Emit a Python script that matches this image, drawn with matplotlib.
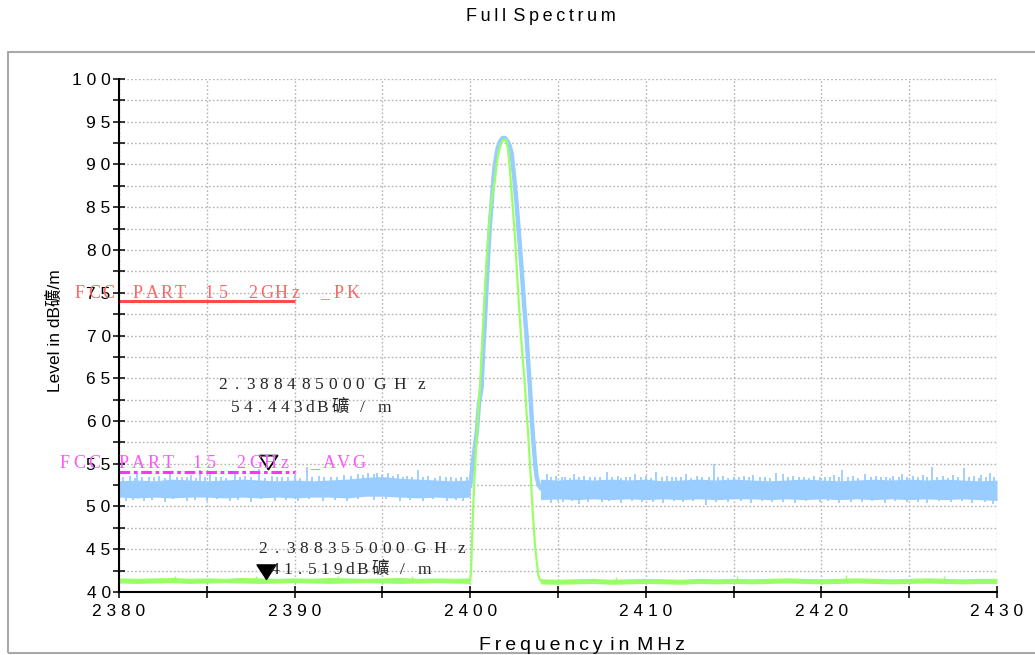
import numpy as np
import matplotlib
matplotlib.use("Agg")
import matplotlib.pyplot as plt
from matplotlib.path import Path
from matplotlib.patches import Rectangle
from matplotlib.ticker import MultipleLocator, FuncFormatter

# ---------------- data ----------------
x_min, x_max = 2380, 2430
y_min, y_max = 40, 100

# peak detector trace (blue): noise floor envelopes
blue_left_f = [2380, 2381, 2382, 2383, 2384, 2385, 2386, 2387, 2388, 2389, 2390,
               2391, 2392, 2393, 2394, 2395, 2396, 2397, 2398, 2399, 2400]
blue_left_hi = [53.0, 53.1, 53.0, 53.2, 53.1, 53.0, 53.1, 53.2, 53.1, 53.0, 53.1,
                53.0, 53.1, 53.2, 53.4, 53.5, 53.3, 53.2, 53.1, 53.0, 53.1]
blue_left_lo = [51.1, 51.0, 51.1, 51.0, 51.1, 51.1, 51.0, 51.1, 51.0, 51.1, 51.0,
                51.1, 51.1, 51.0, 51.2, 51.2, 51.1, 51.0, 51.1, 51.0, 51.1]
blue_right_f = [2404, 2405, 2406, 2407, 2408, 2409, 2410, 2411, 2412, 2413, 2414,
                2415, 2416, 2417, 2418, 2419, 2420, 2421, 2422, 2423, 2424, 2425,
                2426, 2427, 2428, 2429, 2430]
blue_right_hi = [53.2, 53.1, 53.2, 53.1, 53.2, 53.1, 53.2, 53.0, 53.1, 53.2, 53.1,
                 53.2, 53.1, 53.0, 53.1, 53.2, 53.1, 53.0, 53.1, 53.2, 53.1, 53.2,
                 53.1, 53.2, 53.1, 53.0, 53.1]
blue_right_lo = [50.8, 50.9, 50.8, 50.9, 50.8, 50.9, 50.8, 50.9, 50.8, 50.9, 50.8,
                 50.9, 50.9, 50.8, 50.9, 50.8, 50.9, 50.8, 50.9, 50.8, 50.9, 50.8,
                 50.9, 50.8, 50.9, 50.8, 50.7]
blue_spike_up_f = [2380.6, 2381.0, 2381.7, 2382.3, 2382.9, 2383.6, 2384.1, 2384.6, 2385.2,
                   2385.8, 2386.6, 2387.2, 2388.0, 2388.7, 2389.3, 2390.0, 2390.7, 2391.4,
                   2392.1, 2392.8, 2393.6, 2394.2, 2394.7, 2395.3, 2395.9, 2396.4, 2397.0,
                   2397.6, 2398.3, 2398.9, 2399.5,
                   2404.35, 2404.9, 2405.4, 2405.9, 2406.5, 2407.1, 2407.8, 2408.4, 2408.9,
                   2409.4, 2410.0, 2410.6, 2411.2, 2411.7, 2412.3, 2412.9, 2413.9, 2414.4,
                   2415.0, 2415.6, 2416.1, 2416.8, 2417.4, 2417.8, 2418.4, 2419.0, 2419.6,
                   2420.2, 2420.7, 2421.2, 2421.8, 2422.5, 2423.1, 2423.7, 2424.1, 2424.6,
                   2425.2, 2425.8, 2426.3, 2426.9, 2427.5, 2428.1, 2428.7, 2429.1, 2429.6]
blue_spike_up_v = [53.6, 53.9, 53.5, 53.6, 54.0, 53.5, 53.7, 54.3, 53.8,
                   53.5, 53.9, 53.6, 54.4, 53.6, 53.5, 53.7, 54.6, 53.6,
                   53.5, 53.7, 53.8, 53.9, 53.9, 53.9, 53.8, 53.6, 54.3,
                   53.6, 53.6, 53.5, 53.4,
                   53.8, 53.6, 53.5, 53.8, 53.6, 53.5, 54.0, 53.6, 53.5,
                   53.8, 53.6, 54.0, 53.6, 53.5, 53.8, 53.6, 55.0, 53.6,
                   53.5, 53.6, 53.7, 53.5, 53.9, 53.8, 53.6, 53.5, 53.6,
                   53.5, 53.7, 54.3, 53.6, 53.8, 53.6, 53.5, 53.6, 53.8,
                   53.6, 53.7, 54.6, 53.6, 53.7, 54.5, 53.6, 53.7, 53.9]
blue_ripple_up_f = [2380.2, 2380.9, 2381.3, 2382.0, 2382.6, 2383.3, 2383.9, 2384.4, 2384.9,
                    2385.5, 2386.1, 2386.9, 2387.5, 2388.3, 2389.0, 2389.6, 2390.3, 2391.0,
                    2391.7, 2392.4, 2393.2, 2393.9, 2394.5, 2395.0, 2395.6, 2396.2, 2396.7,
                    2397.3, 2398.0, 2398.6, 2399.2, 2399.8,
                    2404.6, 2405.2, 2405.7, 2406.2, 2406.8, 2407.4, 2408.1, 2408.6, 2409.1,
                    2409.7, 2410.3, 2410.9, 2411.5, 2412.0, 2412.6, 2413.2, 2413.6, 2414.1,
                    2414.7, 2415.3, 2415.9, 2416.5, 2417.1, 2418.1, 2418.7, 2419.3, 2419.9,
                    2420.5, 2421.0, 2421.5, 2422.1, 2422.8, 2423.4, 2423.9, 2424.4, 2424.9,
                    2425.5, 2426.0, 2426.6, 2427.2, 2427.8, 2428.4, 2429.0, 2429.4, 2429.85]
blue_ripple_up_v = [53.4, 53.3, 53.5, 53.4, 53.3, 53.5, 53.4, 53.3, 53.5,
                    53.4, 53.3, 53.5, 53.4, 53.3, 53.5, 53.4, 53.3, 53.5,
                    53.4, 53.5, 53.6, 53.7, 53.8, 53.7, 53.6, 53.5, 53.5,
                    53.4, 53.3, 53.4, 53.3, 53.4,
                    53.5, 53.4, 53.3, 53.5, 53.4, 53.5, 53.4, 53.3, 53.5,
                    53.4, 53.3, 53.5, 53.4, 53.5, 53.3, 53.4, 53.5, 53.4,
                    53.3, 53.5, 53.4, 53.5, 53.3, 53.5, 53.4, 53.3, 53.5,
                    53.4, 53.5, 53.4, 53.3, 53.5, 53.4, 53.3, 53.5, 53.4,
                    53.5, 53.4, 53.5, 53.3, 53.5, 53.4, 53.3, 53.5, 53.4]
blue_spike_dn_f = [2380.4, 2381.4, 2382.6, 2383.9, 2385.0, 2386.3, 2387.5, 2388.9, 2390.2,
                   2391.6, 2393.0, 2394.5, 2396.0, 2397.3, 2398.7, 2399.6,
                   2404.6, 2405.3, 2406.2, 2407.5, 2408.6, 2409.8, 2411.0, 2412.1, 2413.4,
                   2414.7, 2416.0, 2417.2, 2418.5, 2419.9, 2421.0, 2422.3, 2423.6, 2424.9,
                   2426.0, 2427.4, 2428.6, 2429.8]
blue_spike_dn_v = [50.6, 50.7, 50.5, 50.7, 50.6, 50.7, 50.5, 50.7, 50.6,
                   50.7, 50.6, 50.8, 50.7, 50.6, 50.7, 50.7,
                   50.4, 50.5, 50.3, 50.5, 50.4, 50.5, 50.4, 50.5, 50.2,
                   50.5, 50.4, 50.5, 50.4, 50.5, 50.4, 50.5, 50.4, 50.5,
                   50.4, 50.5, 50.4, 50.3]
blue_ripple_dn_f = [2380.8, 2381.9, 2383.1, 2384.3, 2385.6, 2386.8, 2388.1, 2389.5, 2390.8,
                    2392.3, 2393.6, 2395.2, 2396.6, 2397.9, 2399.2,
                    2405.0, 2405.8, 2406.7, 2407.9, 2409.2, 2410.4, 2411.6, 2412.7, 2414.0,
                    2415.4, 2416.6, 2417.8, 2419.1, 2420.4, 2421.7, 2422.9, 2424.2, 2425.5,
                    2426.7, 2428.0, 2429.3]
blue_ripple_dn_v = [50.8, 50.8, 50.9, 50.8, 50.9, 50.8, 50.9, 50.8, 50.9,
                    50.8, 50.9, 50.9, 50.8, 50.9, 50.8,
                    50.6, 50.6, 50.5, 50.6, 50.6, 50.5, 50.6, 50.6, 50.5,
                    50.6, 50.6, 50.5, 50.6, 50.6, 50.5, 50.6, 50.6, 50.5,
                    50.6, 50.6, 50.5]
# peak detector trace (blue): carrier
blue_peak_f = [2400.0, 2400.08, 2400.2, 2400.37, 2400.5, 2400.65, 2400.75, 2400.84, 2400.95,
               2401.03, 2401.12, 2401.22, 2401.32, 2401.41, 2401.55, 2401.70, 2401.85, 2401.98,
               2402.1, 2402.23, 2402.36, 2402.5, 2402.64, 2402.78, 2402.93, 2403.07, 2403.21,
               2403.30, 2403.40, 2403.50, 2403.59, 2403.70, 2403.78, 2403.9, 2404.0]
blue_peak_v = [52.4, 53.8, 56.0, 58.6, 62.0, 64.0, 68.5, 71.8, 76.5,
               79.6, 82.8, 85.5, 88.3, 90.1, 91.8, 92.7, 93.1, 93.1,
               92.8, 92.3, 91.3, 88.6, 85.5, 81.8, 77.7, 73.6, 69.9,
               67.0, 64.0, 60.5, 57.8, 55.0, 53.5, 52.5, 52.2]

# average detector trace (green)
green_left_f = blue_left_f
green_left_hi = [41.65, 41.6, 41.65, 41.7, 41.6, 41.65, 41.6, 41.7, 41.65, 41.6, 41.65,
                 41.6, 41.7, 41.65, 41.6, 41.65, 41.7, 41.6, 41.65, 41.6, 41.65]
green_left_lo = [41.05, 41.0, 41.05, 41.1, 41.0, 41.05, 41.1, 41.05, 41.0, 41.05, 41.1,
                 41.05, 41.0, 41.05, 41.1, 41.05, 41.0, 41.05, 41.1, 41.05, 41.0]
green_right_f = blue_right_f
green_right_hi = [41.55, 41.5, 41.55, 41.6, 41.5, 41.55, 41.6, 41.55, 41.5, 41.6, 41.55,
                  41.6, 41.55, 41.6, 41.65, 41.6, 41.55, 41.6, 41.65, 41.6, 41.55, 41.6,
                  41.65, 41.6, 41.55, 41.6, 41.6]
green_right_lo = [40.95, 40.9, 40.95, 41.0, 40.9, 40.95, 41.0, 40.95, 40.9, 41.0, 40.95,
                  41.0, 40.95, 41.0, 41.05, 41.0, 40.95, 41.0, 41.05, 41.0, 40.95, 41.0,
                  41.05, 41.0, 40.95, 41.0, 41.0]
green_spike_f = [2383.2, 2387.8, 2392.5, 2396.7, 2408.3, 2415.2, 2421.4, 2427.0]
green_spike_v = [41.9, 41.85, 41.9, 41.85, 41.8, 41.85, 42.0, 41.85]
green_peak_f = [2400.0, 2400.05, 2400.08, 2400.18, 2400.27, 2400.37, 2400.46, 2400.56, 2400.65,
                2400.75, 2400.84, 2400.94, 2401.03, 2401.13, 2401.27, 2401.41, 2401.50, 2401.60,
                2401.75, 2401.89, 2402.07, 2402.16, 2402.26, 2402.40, 2402.55, 2402.69, 2402.83,
                2402.97, 2403.12, 2403.21, 2403.31, 2403.45, 2403.59, 2403.69, 2403.78, 2403.88,
                2403.97, 2404.1]
green_peak_v = [41.4, 42.5, 44.5, 50.4, 54.5, 58.2, 61.2, 64.0, 68.0,
                71.8, 75.5, 78.8, 81.8, 84.3, 86.5, 88.2, 90.0, 91.3,
                92.4, 92.9, 92.9, 91.6, 89.4, 85.6, 81.6, 76.5, 71.8,
                67.8, 64.0, 61.0, 58.2, 53.3, 48.4, 45.5, 43.7, 42.0,
                41.4, 41.2]

# limit lines
limit_f = [2380, 2390]
limit_pk = 74.0
limit_avg = 54.0
limit_pk_label = "FCC PART 15 2GHz _PK"
limit_avg_label = "FCC PART 15 2GHz _AVG"

# markers
mk1_f, mk1_v = 2388.485, 54.443
mk2_f, mk2_v = 2388.355, 41.519

title = "Full Spectrum"
xlabel = "Frequency in MHz"
ylabel = "Level in dB礦/m"

# ---------------- styling ----------------
BLUE = "#99ccff"
GREEN = "#99ff66"
RED_LINE = "#ff4a4a"
RED_TXT = "#ff6666"
MAG_LINE = "#ff33ff"
MAG_TXT = "#ff55ff"
SANS = ["Liberation Sans", "DejaVu Sans"]
SERIF = ["Liberation Serif", "Noto Sans CJK SC", "DejaVu Serif"]

W, H = 1035, 655
fig = plt.figure(figsize=(W / 100, H / 100), dpi=100)
fig.patch.set_facecolor("white")

# outer frame
fig.patches.append(Rectangle((8 / W, 1 - 653 / H), 1.2, (653 - 52) / H, fill=False,
                             edgecolor="#a9a9a9", lw=1.5, transform=fig.transFigure))

ax = fig.add_axes([119 / W, 1 - 592 / H, (997 - 119) / W, (592 - 79) / H])
ax.set_xlim(x_min, x_max)
ax.set_ylim(y_min, y_max)


def spaced(s, sep):
    return (sep + sep).join(sep.join(w) for w in s.split(" "))


tick_fmt = FuncFormatter(lambda v, p: " ".join(f"{v:.0f}"))
ax.xaxis.set_major_locator(MultipleLocator(10))
ax.xaxis.set_minor_locator(MultipleLocator(5))
ax.yaxis.set_major_locator(MultipleLocator(5))
ax.yaxis.set_minor_locator(MultipleLocator(2.5))
ax.xaxis.set_major_formatter(tick_fmt)
ax.yaxis.set_major_formatter(tick_fmt)
ax.tick_params(which="both", direction="inout", length=8, width=1.1, color="black")
ax.tick_params(axis="y", which="major", pad=2)
ax.tick_params(axis="x", which="major", pad=5)
for lab in ax.get_xticklabels() + ax.get_yticklabels():
    lab.set_fontfamily(SANS)
    lab.set_fontsize(12.5)
ax.grid(True, which="both", color="#b4b4b4", linestyle=(0, (1.2, 1.6)), lw=1.0)
ax.set_axisbelow(True)
for s in ("top", "right"):
    ax.spines[s].set_visible(False)
for s in ("left", "bottom"):
    ax.spines[s].set_linewidth(1.5)
    ax.spines[s].set_zorder(5)

# blue trace
ax.fill_between(blue_left_f, blue_left_lo, blue_left_hi, color=BLUE, lw=0, zorder=2)
ax.fill_between(blue_right_f, blue_right_lo, blue_right_hi, color=BLUE, lw=0, zorder=2)
ax.vlines(blue_spike_up_f, 52.0, blue_spike_up_v, color=BLUE, lw=1.3, zorder=2)
ax.vlines(blue_ripple_up_f, 52.0, blue_ripple_up_v, color=BLUE, lw=1.3, zorder=2)
ax.vlines(blue_spike_dn_f, 52.0, blue_spike_dn_v, color=BLUE, lw=1.3, zorder=2)
ax.vlines(blue_ripple_dn_f, 52.0, blue_ripple_dn_v, color=BLUE, lw=1.3, zorder=2)
ax.plot(blue_peak_f, blue_peak_v, color=BLUE, lw=3.2, zorder=2, solid_joinstyle="round")

# green trace
ax.fill_between(green_left_f, green_left_lo, green_left_hi, color=GREEN, lw=0, zorder=3)
ax.fill_between(green_right_f, green_right_lo, green_right_hi, color=GREEN, lw=0, zorder=3)
ax.vlines(green_spike_f, 41.3, green_spike_v, color=GREEN, lw=1.0, zorder=3)
ax.plot(green_peak_f, green_peak_v, color=GREEN, lw=1.6, zorder=3)

# limit lines
ax.plot(limit_f, [limit_pk, limit_pk], color=RED_LINE, lw=2.2, zorder=4, solid_capstyle="butt")
ax.plot(limit_f, [limit_avg, limit_avg], color=MAG_LINE, lw=2.2, zorder=4,
        linestyle=(0, (3.5, 1.2, 1.2, 1.2)))

# markers: triangles with the tip on the value
tri = Path([(-0.65, 1.0), (0.65, 1.0), (0.0, 0.0), (-0.65, 1.0)],
           [Path.MOVETO, Path.LINETO, Path.LINETO, Path.CLOSEPOLY])
ax.plot([mk1_f], [mk1_v], marker=tri, markersize=20, markerfacecolor="white",
        markeredgecolor="black", markeredgewidth=1.3, linestyle="none", zorder=6)
ax.plot([mk2_f], [mk2_v], marker=tri, markersize=21, markerfacecolor="black",
        markeredgecolor="black", markeredgewidth=1.0, linestyle="none", zorder=6)


def char_row(x0, y, text, step, **kw):
    x = x0
    for ch in text:
        if ch != " ":
            fig.text(x / W, 1 - y / H, ch, ha="center", va="baseline", **kw)
        x += step


txt_kw = dict(family=SERIF, fontsize=12.5, color="#262626", zorder=7)
lim_kw = dict(family=SERIF, fontsize=13, zorder=7)

# limit labels
char_row(80, 298.3, limit_pk_label, 14.37, color=RED_TXT, **lim_kw)
char_row(65, 468.3, limit_avg_label, 14.67, color=MAG_TXT, **lim_kw)


def marker_text(dx, y1, y2, f, v):
    fs = f"{f / 1000:.9f}"
    char_row(223 + dx, y1, fs, 13.7, **txt_kw)
    char_row(379.5 + dx, y1, "GHz", 20.7, **txt_kw)
    vs = f"{v:.3f}dB"
    char_row(235 + dx, y2, vs, 12.5, **txt_kw)
    char_row(340 + dx, y2, "礦", 1, **txt_kw)
    char_row(362 + dx, y2, "/m", 22, **txt_kw)


marker_text(0, 389, 412, mk1_f, mk1_v)
marker_text(40, 553, 573.5, mk2_f, mk2_v)

# titles / labels
fig.text(541 / W, 1 - 16.5 / H, spaced(title, "\u2009"), ha="center", va="center",
         fontsize=13, family=SANS)
fig.text(582 / W, 1 - 650 / H, spaced(xlabel, "\u2009"), ha="center", va="baseline",
         fontsize=14, family=SANS)
fig.text(54.5 / W, 1 - 331 / H, ylabel, rotation=90, ha="center", va="center",
         fontsize=12.5, family=["Liberation Sans", "Noto Sans CJK SC"])

fig.savefig("out.png", dpi=100, facecolor="white")
